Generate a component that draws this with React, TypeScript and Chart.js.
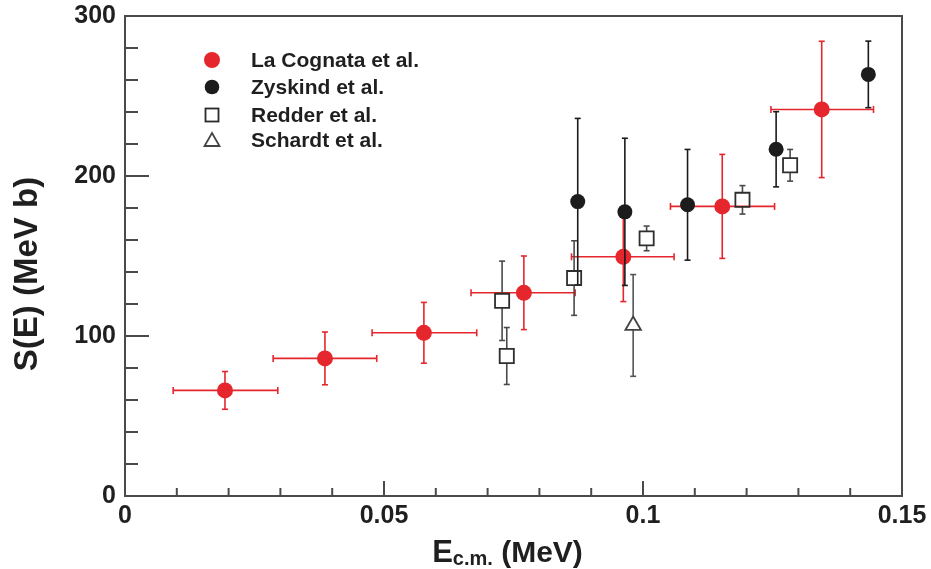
import React, { useEffect, useRef } from "react";
import { Chart, registerables } from "chart.js";

Chart.register(...registerables);

// ---- data ----
const xTickLabels = ["0", "0.05", "0.1", "0.15"];
const yTickLabels = ["0", "100", "200", "300"];

const laCognataX = [0.0193, 0.0386, 0.0577, 0.077, 0.0962, 0.1153, 0.1345];
const laCognataY = [66, 86, 102, 127, 149.5, 181, 241.6];
const laCognataXLow = [0.0093, 0.0286, 0.0477, 0.0668, 0.0862, 0.1053, 0.1247];
const laCognataXHigh = [0.0295, 0.0486, 0.0679, 0.0869, 0.106, 0.1254, 0.1445];
const laCognataYErr = [11.8, 16.5, 19, 23, 28, 32.5, 42.6];

const zyskindX = [0.0874, 0.0965, 0.1086, 0.1257, 0.1435];
const zyskindY = [184, 177.6, 182, 216.7, 263.5];
const zyskindYErr = [52, 46, 34.6, 23.5, 20.8];

const redderX = [0.0728, 0.0737, 0.0867, 0.1007, 0.1192, 0.1284];
const redderY = [122, 87.5, 136.2, 161, 185.1, 206.7];
const redderYErr = [24.8, 17.8, 23.3, 7.7, 8.9, 9.9];

const schardtX = [0.0981];
const schardtY = [106.6];
const schardtYErr = [31.8];

const seriesNames = ["La Cognata et al.", "Zyskind et al.", "Redder et al.", "Schardt et al."];

const RED = "#e5262c";
const BLACK = "#1c1c1c";
const FONT = "'Liberation Sans', Arial, Helvetica, sans-serif";

const pts = (xs: number[], ys: number[]) => xs.map((x, i) => ({ x, y: ys[i] }));

const errorBarPlugin = {
  id: "errorBars",
  beforeDatasetDraw(chart: any, args: any) {
    const ds: any = chart.data.datasets[args.index];
    if (!ds.yErr) return;
    const xs = chart.scales.x;
    const ys = chart.scales.y;
    const ctx = chart.ctx;
    ctx.save();
    ctx.strokeStyle = ds.errColor;
    ctx.lineWidth = ds.errWidth;
    const line = (a: number, b: number, c: number, d: number) => {
      ctx.beginPath();
      ctx.moveTo(a, b);
      ctx.lineTo(c, d);
      ctx.stroke();
    };
    const cap = 3;
    ds.data.forEach((p: any, i: number) => {
      const px = xs.getPixelForValue(p.x);
      const py = ys.getPixelForValue(p.y);
      const e = ds.yErr[i];
      const yTop = ys.getPixelForValue(p.y + e);
      const yBot = ys.getPixelForValue(p.y - e);
      line(px, yTop, px, py - ds.gapTop);
      line(px, py + ds.gapBottom, px, yBot);
      line(px - cap, yTop, px + cap, yTop);
      line(px - cap, yBot, px + cap, yBot);
      if (ds.xLow) {
        const xl = xs.getPixelForValue(ds.xLow[i]);
        const xh = xs.getPixelForValue(ds.xHigh[i]);
        line(xl, py, xh, py);
        line(xl, py - 3.5, xl, py + 3.5);
        line(xh, py - 3.5, xh, py + 3.5);
      }
    });
    ctx.restore();
  },
};

const framePlugin = {
  id: "frameTicks",
  beforeDatasetsDraw(chart: any) {
    const { ctx, chartArea: a, scales } = chart;
    const xs = scales.x;
    const ys = scales.y;
    ctx.save();
    ctx.strokeStyle = "#4a4a4a";
    ctx.lineWidth = 2;
    ctx.strokeRect(a.left, a.top, a.right - a.left, a.bottom - a.top);
    for (let k = 0; k <= 15; k++) {
      const v = k * 0.01;
      const px = xs.getPixelForValue(v);
      const len = k % 5 === 0 ? 15 : 8;
      ctx.beginPath();
      ctx.moveTo(px, a.bottom);
      ctx.lineTo(px, a.bottom - len);
      ctx.stroke();
    }
    for (let k = 0; k <= 15; k++) {
      const v = k * 20;
      const py = ys.getPixelForValue(v);
      const len = k % 5 === 0 ? 24 : 13;
      ctx.beginPath();
      ctx.moveTo(a.left, py);
      ctx.lineTo(a.left + len, py);
      ctx.stroke();
    }
    ctx.restore();
  },
};

const annotatePlugin = {
  id: "annotate",
  afterDraw(chart: any) {
    const { ctx, chartArea: a } = chart;
    ctx.save();
    ctx.fillStyle = "#1f1f1f";
    // y title
    ctx.save();
    ctx.translate(37, (a.top + a.bottom) / 2 + 18);
    ctx.rotate(-Math.PI / 2);
    ctx.font = `bold 33px ${FONT}`;
    ctx.textAlign = "center";
    ctx.textBaseline = "alphabetic";
    ctx.fillText("S(E) (MeV b)", 0, 0);
    ctx.restore();
    // x title with subscript
    const f1 = `bold 31px ${FONT}`;
    const f2 = `bold 20px ${FONT}`;
    const f3 = `bold 30px ${FONT}`;
    ctx.textBaseline = "alphabetic";
    ctx.textAlign = "left";
    ctx.font = f1;
    const w1 = ctx.measureText("E").width;
    ctx.font = f2;
    const w2 = ctx.measureText("c.m.").width;
    ctx.font = f3;
    const w3 = ctx.measureText(" (MeV)").width;
    const total = w1 + w2 + w3;
    let x0 = (a.left + a.right) / 2 - 6 - total / 2;
    const base = 562;
    ctx.font = f1;
    ctx.fillText("E", x0, base);
    x0 += w1;
    ctx.font = f2;
    ctx.fillText("c.m.", x0, base + 3);
    x0 += w2;
    ctx.font = f3;
    ctx.fillText(" (MeV)", x0, base);

    // legend
    const mx = a.left + 87;
    const tx = a.left + 126;
    const rows = [a.top + 44, a.top + 71, a.top + 99, a.top + 124];
    ctx.font = `bold 21px ${FONT}`;
    ctx.textBaseline = "middle";
    seriesNames.forEach((name, i) => {
      const y = rows[i];
      ctx.fillStyle = "#1f1f1f";
      ctx.fillText(name, tx, y + 1);
      if (i === 0 || i === 1) {
        ctx.beginPath();
        ctx.arc(mx, y, i === 0 ? 8 : 7.3, 0, Math.PI * 2);
        ctx.fillStyle = i === 0 ? RED : BLACK;
        ctx.fill();
      } else if (i === 2) {
        ctx.strokeStyle = "#2a2a2a";
        ctx.lineWidth = 1.8;
        ctx.strokeRect(mx - 6.5, y - 6.5, 13, 13);
      } else {
        ctx.strokeStyle = "#444";
        ctx.lineWidth = 1.8;
        ctx.beginPath();
        ctx.moveTo(mx, y - 7);
        ctx.lineTo(mx + 7.5, y + 6);
        ctx.lineTo(mx - 7.5, y + 6);
        ctx.closePath();
        ctx.stroke();
      }
    });
    ctx.restore();
  },
};

export default function App() {
  const ref = useRef<HTMLCanvasElement>(null);
  useEffect(() => {
    if (!ref.current) return;
    const chart = new Chart(ref.current, {
      type: "scatter",
      data: {
        datasets: [
          {
            label: seriesNames[0],
            data: pts(laCognataX, laCognataY),
            pointStyle: "circle",
            pointRadius: 8,
            backgroundColor: RED,
            borderColor: RED,
            borderWidth: 0,
            order: 4,
            yErr: laCognataYErr,
            xLow: laCognataXLow,
            xHigh: laCognataXHigh,
            errColor: RED,
            errWidth: 1.6,
            gapTop: 0,
            gapBottom: 0,
          } as any,
          {
            label: seriesNames[1],
            data: pts(zyskindX, zyskindY),
            pointStyle: "circle",
            pointRadius: 7.5,
            backgroundColor: BLACK,
            borderColor: BLACK,
            borderWidth: 0,
            order: 3,
            yErr: zyskindYErr,
            errColor: "#1a1a1a",
            errWidth: 1.6,
            gapTop: 0,
            gapBottom: 0,
          } as any,
          {
            label: seriesNames[2],
            data: pts(redderX, redderY),
            pointStyle: "rect",
            pointRadius: 10,
            backgroundColor: "rgba(0,0,0,0)",
            borderColor: "#2e2e2e",
            borderWidth: 1.8,
            order: 2,
            yErr: redderYErr,
            errColor: "#4a4a4a",
            errWidth: 1.6,
            gapTop: 7,
            gapBottom: 7,
          } as any,
          {
            label: seriesNames[3],
            data: pts(schardtX, schardtY),
            pointStyle: "triangle",
            pointRadius: 9,
            backgroundColor: "rgba(0,0,0,0)",
            borderColor: "#444",
            borderWidth: 1.8,
            order: 1,
            yErr: schardtYErr,
            errColor: "#555",
            errWidth: 1.6,
            gapTop: 9,
            gapBottom: 4.5,
          } as any,
        ],
      },
      options: {
        responsive: false,
        animation: false,
        devicePixelRatio: 1,
        layout: { padding: { top: 16, right: 29, left: 0, bottom: 0 } },
        plugins: {
          legend: { display: false },
          tooltip: { enabled: false },
        },
        scales: {
          x: {
            type: "linear",
            min: 0,
            max: 0.15,
            grid: { display: false, drawTicks: false },
            border: { display: false },
            ticks: {
              stepSize: 0.05,
              padding: 5,
              color: "#1f1f1f",
              font: { family: FONT, size: 25, weight: "bold" },
              maxRotation: 0,
              callback: (v: any) => {
                const i = Math.round(Number(v) / 0.05);
                return xTickLabels[i] ?? "";
              },
            },
            afterFit: (s: any) => {
              s.height = 73;
              s.paddingLeft = 0;
              s.paddingRight = 0;
              s.paddingTop = 0;
              s.paddingBottom = 0;
            },
          },
          y: {
            type: "linear",
            min: 0,
            max: 300,
            grid: { display: false, drawTicks: false },
            border: { display: false },
            ticks: {
              stepSize: 100,
              padding: 9,
              color: "#1f1f1f",
              font: { family: FONT, size: 25, weight: "bold" },
              callback: (v: any) => {
                const i = Math.round(Number(v) / 100);
                return yTickLabels[i] ?? "";
              },
            },
            afterFit: (s: any) => {
              s.width = 125;
              s.paddingLeft = 0;
              s.paddingRight = 0;
              s.paddingTop = 0;
              s.paddingBottom = 0;
            },
          },
        },
      },
      plugins: [errorBarPlugin, framePlugin, annotatePlugin],
    });
    return () => chart.destroy();
  }, []);
  return (
    <div style={{ position: "absolute", left: 0, top: 0, width: 931, height: 569, background: "#fff" }}>
      <canvas ref={ref} width={931} height={569} style={{ width: 931, height: 569 }} />
    </div>
  );
}
